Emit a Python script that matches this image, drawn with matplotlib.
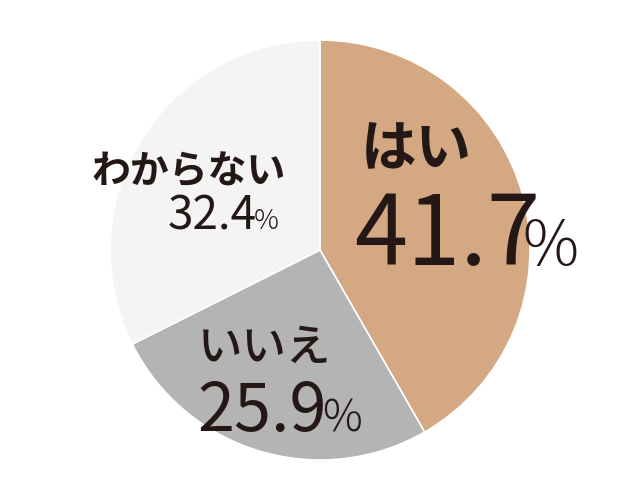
import matplotlib
matplotlib.use("Agg")
import matplotlib.pyplot as plt

labels = ["はい", "いいえ", "わからない"]
values = [41.7, 25.9, 32.4]
colors = ["#D4A882", "#B4B4B4", "#F4F4F4"]

plt.rcParams['font.family'] = ['Noto Sans CJK JP', 'DejaVu Sans']

W, H = 640, 500
fig = plt.figure(figsize=(6.4, 5.0), dpi=100)
ax = fig.add_axes([0, 0, 1, 1])

ax.pie(values, colors=colors, startangle=90, counterclock=False,
       center=(320, 250), radius=210, frame=True,
       wedgeprops=dict(edgecolor='white', linewidth=1.2))
ax.set_xlim(0, W)
ax.set_ylim(0, H)
ax.set_aspect('equal')
ax.axis('off')

tc = "#231815"

def py(y):
    return H - y

# (label x, label baseline, label size, weight, num x, num baseline, num size, pct size, pct gap px)
specs = [
    (361, 166, 40, 'bold', 354, 265, 69, 45, -18),
    (198, 361, 32, 'medium', 197, 431, 48, 32, -4),
    (91, 184, 28, 'bold', 168, 229, 33, 20, -3),
]

fig.canvas.draw()
renderer = fig.canvas.get_renderer()

for lab, val, sp in zip(labels, values, specs):
    lx, ly, ls, lw, nx, ny, ns, ps, gap = sp
    ax.text(lx, py(ly), lab, fontsize=ls, fontweight=lw, color=tc,
            ha='left', va='baseline')
    t = ax.text(nx, py(ny), f"{val:.1f}", fontsize=ns, color=tc,
                ha='left', va='baseline', family='Noto Sans CJK JP')
    bb = t.get_window_extent(renderer=renderer)
    ax.text(bb.x1 + gap, py(ny), "%", fontsize=ps, color=tc,
            ha='left', va='baseline', family='Noto Sans CJK JP',
            fontweight='light')

fig.savefig("out.png", dpi=100, facecolor='white')
